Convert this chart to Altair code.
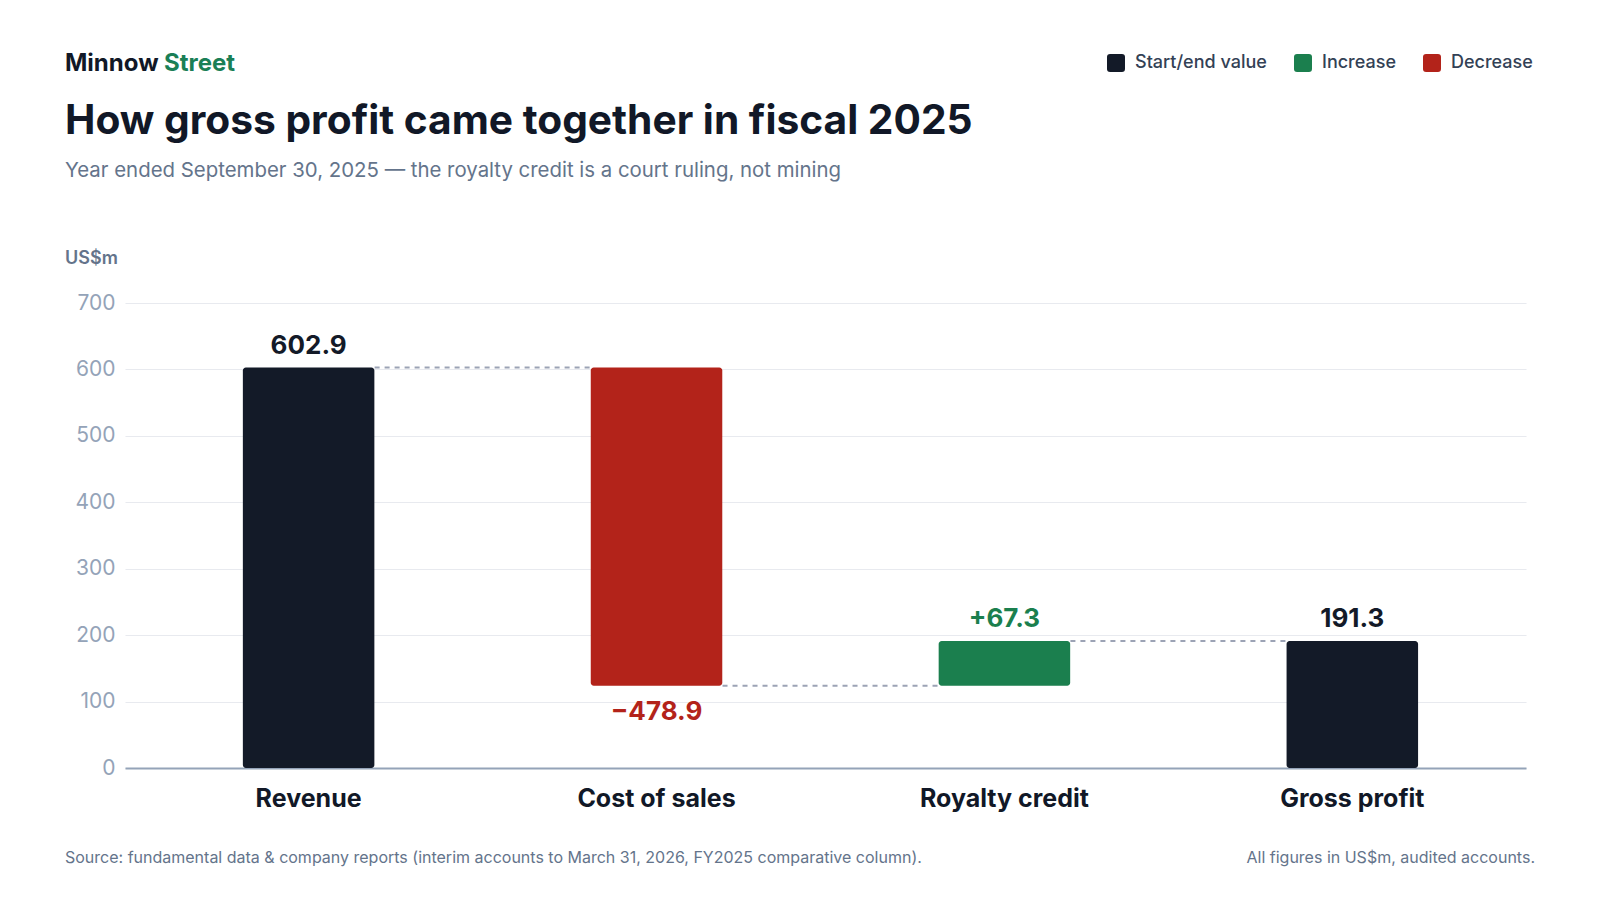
import altair as alt
import pandas as pd

# ---- data ----
categories = ["Revenue", "Cost of sales", "Royalty credit", "Gross profit"]
values = [602.9, -478.9, 67.3, 191.3]
kinds = ["Start/end value", "Decrease", "Increase", "Start/end value"]
value_labels = ["602.9", "\u2212478.9", "+67.3", "191.3"]
legend_labels = ["Start/end value", "Increase", "Decrease"]
legend_colors = ["#131a28", "#1b7f4e", "#b3231a"]
y_ticks = [0, 100, 200, 300, 400, 500, 600, 700]

brand_a = "Minnow"
brand_b = "Street"
title_text = "How gross profit came together in fiscal 2025"
subtitle_text = "Year ended September 30, 2025 \u2014 the royalty credit is a court ruling, not mining"
unit_text = "US$m"
source_text = "Source: fundamental data & company reports (interim accounts to March 31, 2026, FY2025 comparative column)."
note_text = "All figures in US$m, audited accounts."

FONT = "Inter"
ROUNDED_SQUARE = (
    "M-1,-0.66 Q-1,-1 -0.66,-1 L0.66,-1 Q1,-1 1,-0.66 L1,0.66 Q1,1 0.66,1 "
    "L-0.66,1 Q-1,1 -1,0.66 Z"
)

# ---- derived table ----
starts, ends = [], []
running = 0.0
for v, k in zip(values, kinds):
    if k == "Start/end value":
        starts.append(0.0)
        ends.append(v)
        running = v
    else:
        starts.append(round(running, 1))
        running = round(running + v, 1)
        ends.append(running)

df = pd.DataFrame({
    "cat": categories,
    "start": starts,
    "end": ends,
    "kind": kinds,
    "label": value_labels,
})
df["top"] = df[["start", "end"]].max(axis=1)
df["bottom"] = df[["start", "end"]].min(axis=1)
df["pos"] = ["below" if k == "Decrease" else "above" for k in kinds]

conn = pd.DataFrame({
    "cat": categories[:-1],
    "next": categories[1:],
    "level": ends[:-1],
})

x_scale = alt.Scale(domain=categories, paddingInner=0.622, paddingOuter=0.3245, align=0.522)
y_scale = alt.Scale(domain=[0, 700], nice=False)
color_scale = alt.Scale(domain=legend_labels, range=legend_colors)

x_enc = alt.X(
    "cat:N", scale=x_scale, sort=categories,
    axis=alt.Axis(
        title=None, labelAngle=0, labelFontSize=25, labelFont=FONT, labelFontWeight=700,
        labelColor="#111827", labelPadding=18, ticks=False, domainColor="#94a3b8",
        domainWidth=2, grid=False,
    ),
)

bars = alt.Chart(df).mark_bar(cornerRadius=3).encode(
    x=x_enc,
    y=alt.Y(
        "start:Q", scale=y_scale,
        axis=alt.Axis(
            values=y_ticks, title=None, labelFontSize=21, labelFont=FONT,
            labelColor="#94a3b8", labelPadding=10, ticks=False, domain=False,
            gridColor="#e8eaef", gridWidth=1.2,
        ),
    ),
    y2="end:Q",
    color=alt.Color(
        "kind:N", scale=color_scale,
        legend=alt.Legend(
            title=None, orient="none", legendX=982, legendY=-249, direction="horizontal",
            symbolType=ROUNDED_SQUARE, symbolSize=324, symbolStrokeWidth=0, symbolOpacity=1,
            labelFontSize=18, labelFont=FONT, labelFontWeight=500, labelColor="#334155",
            labelOffset=10, columnPadding=27, padding=0,
        ),
    ),
)

connectors = alt.Chart(conn).mark_rule(
    color="#9ca3b5", strokeWidth=2, strokeDash=[5, 5], xOffset=66, x2Offset=-66
).encode(
    x=alt.X("cat:N", scale=x_scale, sort=categories),
    x2="next:N",
    y=alt.Y("level:Q", scale=y_scale),
)

above = alt.Chart(df).transform_filter(alt.datum.pos == "above").mark_text(
    baseline="alphabetic", dy=-14, fontSize=26, fontWeight=700, font=FONT
).encode(
    x=alt.X("cat:N", scale=x_scale, sort=categories),
    y=alt.Y("top:Q", scale=y_scale),
    text="label:N",
    color=alt.Color("kind:N", scale=color_scale, legend=None),
)

below = alt.Chart(df).transform_filter(alt.datum.pos == "below").mark_text(
    baseline="top", dy=13, fontSize=26, fontWeight=700, font=FONT
).encode(
    x=alt.X("cat:N", scale=x_scale, sort=categories),
    y=alt.Y("bottom:Q", scale=y_scale),
    text="label:N",
    color=alt.Color("kind:N", scale=color_scale, legend=None),
)


def text_layer(txt, x, y, size, color, weight=400, align="left"):
    return alt.Chart(pd.DataFrame({"t": [txt]})).mark_text(
        align=align, baseline="alphabetic", fontSize=size, fontWeight=weight,
        font=FONT, color=color,
    ).encode(x=alt.value(x), y=alt.value(y), text="t:N")


brand1 = text_layer(brand_a, -60, -232, 24, "#111827", 700)
brand2 = text_layer(brand_b, 39, -232, 24, "#1a7f56", 700)
title = text_layer(title_text, -60, -169, 40.7, "#111827", 700)
subtitle = text_layer(subtitle_text, -60, -126, 20.4, "#64748b", 400)
unit = text_layer(unit_text, -60, -39, 18, "#64748b", 600)
source = text_layer(source_text, -60, 560, 16, "#64748b", 400)
note = text_layer(note_text, 1410, 560, 16, "#64748b", 400, align="right")

chart = alt.layer(
    bars, connectors, above, below, brand1, brand2, title, subtitle, unit, source, note
).properties(
    width=1401,
    height=465,
    padding={"left": 117, "top": 295, "right": 60, "bottom": 110},
    autosize=alt.AutoSizeParams(type="none"),
    background="white",
).configure_view(strokeWidth=0, stroke="transparent")

chart.save("out.html", embed_options={"renderer": "svg", "actions": False})
